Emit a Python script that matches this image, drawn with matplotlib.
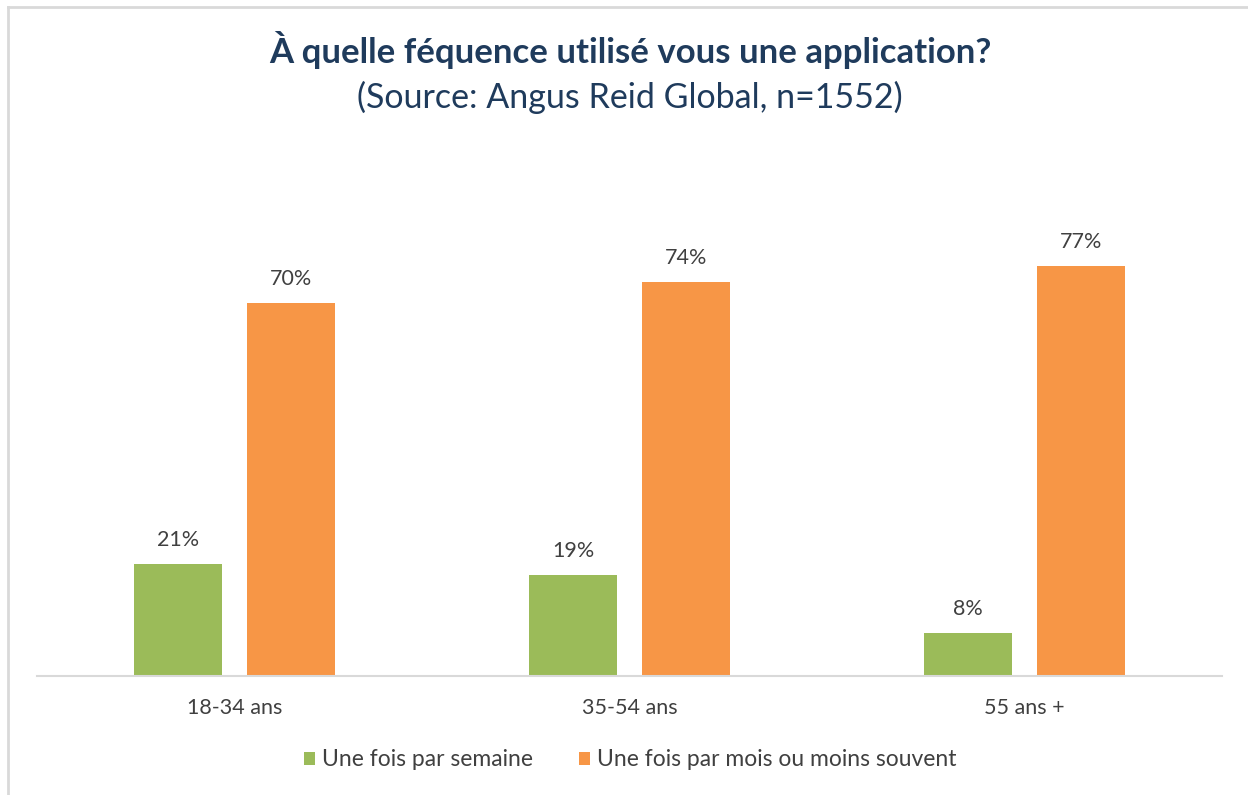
import matplotlib
matplotlib.use("Agg")
import matplotlib.pyplot as plt
import numpy as np
from matplotlib.lines import Line2D
from matplotlib.patches import Patch

categories = ["18-34 ans", "35-54 ans", "55 ans +"]
series_names = ["Une fois par semaine", "Une fois par mois ou moins souvent"]
weekly = [21, 19, 8]
monthly = [70, 74, 77]
colors = ["#9BBB59", "#F79646"]

plt.rcParams['font.family'] = ['Lato', 'DejaVu Sans']

fig = plt.figure(figsize=(12.48, 7.95), dpi=100)
ax = fig.add_axes([37/1248, 1-676/795, (1222-37)/1248, (676-200)/795])

x = np.arange(len(categories))
w = 0.223
off = 0.143
b1 = ax.bar(x - off, weekly, width=w, color=colors[0], label=series_names[0])
b2 = ax.bar(x + off, monthly, width=w, color=colors[1], label=series_names[1])

for bars, vals in ((b1, weekly), (b2, monthly)):
    for r, v in zip(bars, vals):
        ax.annotate(f"{v}%", (r.get_x() + r.get_width()/2, v), xytext=(0, 10),
                    textcoords="offset points", ha="center", va="bottom",
                    fontsize=15.5, color="#404040")

ax.set_xlim(-0.5, 2.5)
ax.set_ylim(0, 89.3)
ax.set_xticks(x)
ax.set_xticklabels(categories, fontsize=15.5, color="#404040")
ax.tick_params(axis="x", length=0, pad=16)
ax.set_yticks([])
for s in ["left", "right", "top"]:
    ax.spines[s].set_visible(False)
ax.spines["bottom"].set_color("#D9D9D9")
ax.spines["bottom"].set_linewidth(1.5)

fig.text(630/1248, 1-50/795, "À quelle féquence utilisé vous une application?",
         ha="center", va="center", fontsize=25, fontweight="bold", color="#1F3B5C")
fig.text(630/1248, 1-97/795, "(Source: Angus Reid Global, n=1552)",
         ha="center", va="center", fontsize=24.5, color="#1F3B5C")

handles = [Patch(facecolor=colors[0]), Patch(facecolor=colors[1])]
fig.legend(handles, series_names, loc="center", bbox_to_anchor=(630/1248, 1-760/795),
           ncol=2, frameon=False, fontsize=16.5, labelcolor="#404040",
           handlelength=0.5, handleheight=0.5, handletextpad=0.3, columnspacing=2.0)

fig.add_artist(Line2D([8/1248, 8/1248], [0, 1-7/795], transform=fig.transFigure,
                      color="#D9D9D9", linewidth=2))
fig.add_artist(Line2D([8/1248, 1], [1-7/795, 1-7/795], transform=fig.transFigure,
                      color="#D9D9D9", linewidth=2))

fig.savefig("out.png", dpi=100)
